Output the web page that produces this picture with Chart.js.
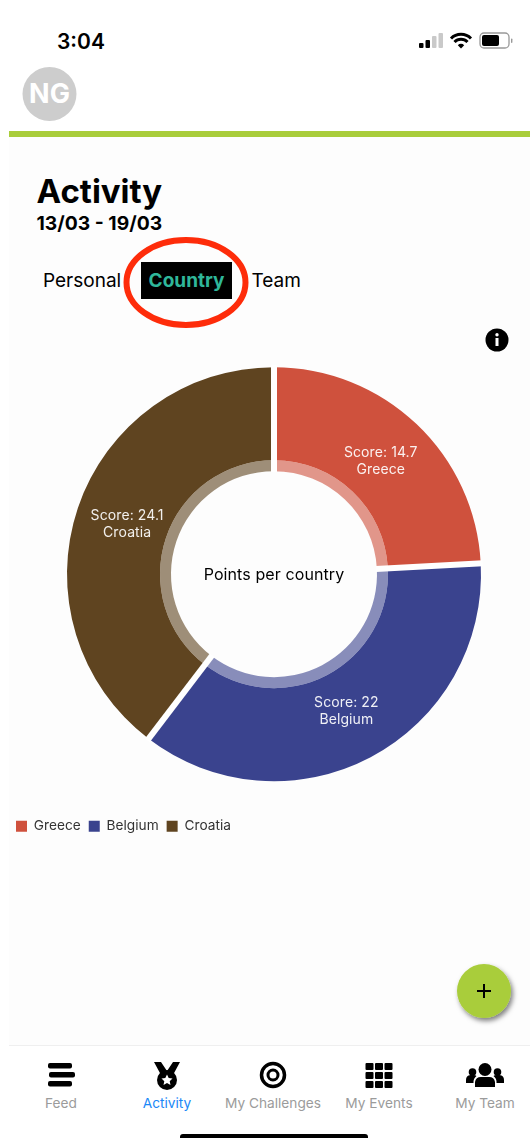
<!DOCTYPE html>
<html>
<head>
<meta charset="utf-8">
<script src="https://cdn.jsdelivr.net/npm/chart.js@4/dist/chart.umd.min.js"></script>
<style>
  html, body { margin: 0; padding: 0; background: #fff; }
  #app { position: relative; width: 530px; height: 1138px; overflow: hidden; background: #fff; font-family: Inter, sans-serif; color: #000; }
  #sheet { position: absolute; left: 9px; top: 137px; width: 521px; height: 908px; background: #fdfdfd; }
  .t { position: absolute; white-space: nowrap; line-height: 1; }
  .nav { position: absolute; top: 1096px; width: 106px; text-align: center; font-size: 13.7px; line-height: 14px; color: #9b9b9b; white-space: nowrap; }
  svg { position: absolute; overflow: visible; }
  canvas { position: absolute; left: 0; top: 337px; }
</style>
</head>
<body>
<div id="app">
  <div id="sheet"></div>
  <div class="t" style="left:57px;top:31px;font-size:21px;font-weight:600">3:04</div>

  <!-- status icons -->
  <svg style="left:0;top:0" width="530" height="60">
    <rect x="419" y="43" width="4.5" height="5" rx="1" fill="#000"/>
    <rect x="425.5" y="40" width="4.5" height="8" rx="1" fill="#000"/>
    <rect x="432" y="36" width="4.5" height="12" rx="1" fill="#c9c9c9"/>
    <rect x="438.5" y="33" width="4.5" height="15" rx="1" fill="#c9c9c9"/>
    <path d="M451 38.5a14 14 0 0 1 20 0M454.500 42a9 9 0 0 1 13 0" fill="none" stroke="#000" stroke-width="3"/>
    <path d="M457.800 45.200a4.500 4.500 0 0 1 6.400 0L461 48.600z" fill="#000"/>
    <rect x="480" y="33" width="29" height="15" rx="4" fill="none" stroke="#999" stroke-width="1.3"/>
    <rect x="482" y="35" width="17" height="11" rx="2" fill="#000"/>
    <rect x="511" y="38.500" width="1.400" height="4.500" rx=".7" fill="#999"/>
  </svg>

  <!-- avatar and header rule -->
  <svg style="left:0;top:0" width="530" height="140">
    <circle cx="49.500" cy="94" r="27" fill="#cdcdcd"/>
    <rect x="9" y="131" width="521" height="6" fill="#a9cd3b"/>
  </svg>
  <div class="t" style="left:22px;width:55px;top:80px;text-align:center;font-size:27px;font-weight:700;color:#fff">NG</div>

  <div class="t" style="left:36.500px;top:175px;font-size:33px;font-weight:700">Activity</div>
  <div class="t" style="left:36.500px;top:214px;font-size:19.300px;font-weight:700">13/03 - 19/03</div>

  <!-- tab row -->
  <div class="t" style="left:43px;top:271px;font-size:19px">Personal</div>
  <div class="t" style="left:141px;top:262px;width:91px;height:37px;line-height:37px;background:#000;color:#2fb79a;text-align:center;font-size:19px;font-weight:700">Country</div>
  <div class="t" style="left:251.500px;top:271px;font-size:19px">Team</div>
  <svg style="left:0;top:0" width="530" height="340">
    <ellipse cx="186" cy="282.500" rx="59.500" ry="42.500" fill="none" stroke="#fe2c0a" stroke-width="6"/>
  </svg>

  <!-- info button -->
  <svg style="left:485px;top:328px" width="24" height="24">
    <circle cx="12" cy="12" r="11.500" fill="#000"/>
    <circle cx="12" cy="6.800" r="1.700" fill="#fff"/>
    <rect x="10.500" y="10" width="3" height="8" fill="#fff"/>
  </svg>

  <canvas id="donut" width="540" height="506"></canvas>

  <!-- floating add button -->
  <svg style="left:450px;top:958px" width="70" height="70">
    <defs><filter id="fabShadow" x="-30%" y="-30%" width="170%" height="170%"><feDropShadow dx="2" dy="3" stdDeviation="2.500" flood-color="#000" flood-opacity=".5"/></filter></defs>
    <circle cx="34" cy="33" r="27" fill="#a9cd3b" filter="url(#fabShadow)"/>
    <path d="M34 26v14M27 33h14" stroke="#000" stroke-width="2"/>
  </svg>

  <!-- bottom navigation -->
  <div style="position:absolute;left:9px;top:1045px;width:521px;height:1px;background:#efefef"></div>
  <svg style="left:0;top:1055px" width="530" height="45">
    <g fill="#000">
      <rect x="48" y="8" width="24" height="5.500" rx="2"/><rect x="49" y="17" width="26" height="5.500" rx="2"/><rect x="48" y="26" width="24" height="5.500" rx="2"/>
    </g>
    <g>
      <path d="M154 7h7l6 9 6-9h7l-7 13h-12z" fill="#000"/>
      <circle cx="167" cy="25" r="10" fill="#000"/>
      <path d="M167 19.500l1.700 3.600 3.800.5-2.800 2.600.8 3.900-3.500-2-3.500 2 .8-3.900-2.800-2.600 3.800-.5z" fill="#fff"/>
    </g>
    <g fill="none" stroke="#000">
      <circle cx="273" cy="20" r="11.500" stroke-width="3.500"/><circle cx="273" cy="20" r="5" stroke-width="3"/>
    </g>
    <g fill="#000">
      <rect x="365.500" y="8" width="8" height="7" rx="1"/><rect x="375" y="8" width="8" height="7" rx="1"/><rect x="384.500" y="8" width="8" height="7" rx="1"/>
      <rect x="365.500" y="17" width="8" height="7" rx="1"/><rect x="375" y="17" width="8" height="7" rx="1"/><rect x="384.500" y="17" width="8" height="7" rx="1"/>
      <rect x="365.500" y="26" width="8" height="7" rx="1"/><rect x="375" y="26" width="8" height="7" rx="1"/><rect x="384.500" y="26" width="8" height="7" rx="1"/>
    </g>
    <g fill="#000">
      <circle cx="485" cy="14.500" r="6.500"/><circle cx="472.500" cy="17" r="3.800"/><circle cx="497.500" cy="17" r="3.800"/>
      <path d="M475 32v-5a6 6 0 0 1 6-5h8a6 6 0 0 1 6 5v5z"/>
      <path d="M468 28h5.500a8 8 0 0 1 3-7 4 4 0 0 0-3-1h-3a5 5 0 0 0-4.500 5v3z"/>
      <path d="M502 28h-5.500a8 8 0 0 0-3-7 4 4 0 0 1 3-1h3a5 5 0 0 1 4.500 5v3z"/>
    </g>
  </svg>
  <div class="nav" style="left:8px">Feed</div>
  <div class="nav" style="left:114px;color:#1a87f7">Activity</div>
  <div class="nav" style="left:220px">My Challenges</div>
  <div class="nav" style="left:326px">My Events</div>
  <div class="nav" style="left:432px">My Team</div>
  <div style="position:absolute;left:180px;top:1134px;width:188px;height:6px;background:#000;border-radius:3px 3px 0 0"></div>
</div>

<script>
const categories = ['Greece', 'Belgium', 'Croatia'];
const scores = [14.7, 22, 24.1];
const sliceColors = ['#cf513d', '#3a438e', '#5f4420'];
const ringColors = ['rgba(207,81,61,.6)', 'rgba(58,67,142,.6)', 'rgba(95,68,32,.6)'];
const centerCaption = 'Points per country';

// Cuts the white radial gaps between slices, then writes the score and country
// name across both rings and the caption in the hole.
const donutText = {
  id: 'donutText',
  afterDatasetsDraw(chart) {
    const { ctx } = chart;
    const outer = chart.getDatasetMeta(0).data;
    const inner = chart.getDatasetMeta(1).data;
    ctx.save();
    ctx.strokeStyle = '#fff';
    ctx.lineWidth = 6;
    outer.forEach((arc, i) => {
      const a = arc.startAngle;
      const from = inner[i].innerRadius - 1;
      const to = arc.outerRadius + 2;
      ctx.beginPath();
      ctx.moveTo(arc.x + Math.cos(a) * from, arc.y + Math.sin(a) * from);
      ctx.lineTo(arc.x + Math.cos(a) * to, arc.y + Math.sin(a) * to);
      ctx.stroke();
    });
    ctx.textAlign = 'center';
    ctx.textBaseline = 'middle';
    ctx.font = '14px Inter, sans-serif';
    ctx.letterSpacing = '0.1px';
    outer.forEach((arc, i) => {
      const mid = (arc.startAngle + arc.endAngle) / 2;
      const r = (arc.outerRadius + inner[i].innerRadius) / 2;
      const x = arc.x + Math.cos(mid) * r;
      const y = arc.y + Math.sin(mid) * r;
      ctx.fillStyle = 'rgba(255,255,255,.92)';
      ctx.fillText('Score: ' + scores[i], x, y - 8.5);
      ctx.fillText(categories[i], x, y + 8.5);
    });
    ctx.fillStyle = '#000';
    ctx.font = '16px Inter, sans-serif';
    ctx.fillText(centerCaption, outer[0].x, outer[0].y + 1);
    ctx.restore();
  }
};

new Chart(document.getElementById('donut'), {
  type: 'doughnut',
  data: {
    labels: categories,
    datasets: [
      { data: scores, backgroundColor: sliceColors, hoverBackgroundColor: sliceColors, weight: 93 },
      { data: scores, backgroundColor: ringColors, hoverBackgroundColor: ringColors, weight: 11 }
    ]
  },
  options: {
    responsive: false,
    animation: false,
    cutout: '49.76%',
    radius: 207,
    elements: { arc: { borderWidth: 0 } },
    layout: { padding: { left: 8 } },
    plugins: {
      tooltip: { enabled: false },
      title: { display: false },
      legend: {
        position: 'bottom',
        align: 'start',
        labels: {
          boxWidth: 11,
          boxHeight: 11,
          padding: 8,
          color: '#333',
          font: { family: 'Inter, sans-serif', size: 13.7 }
        }
      }
    }
  },
  plugins: [donutText]
});
</script>
</body>
</html>
